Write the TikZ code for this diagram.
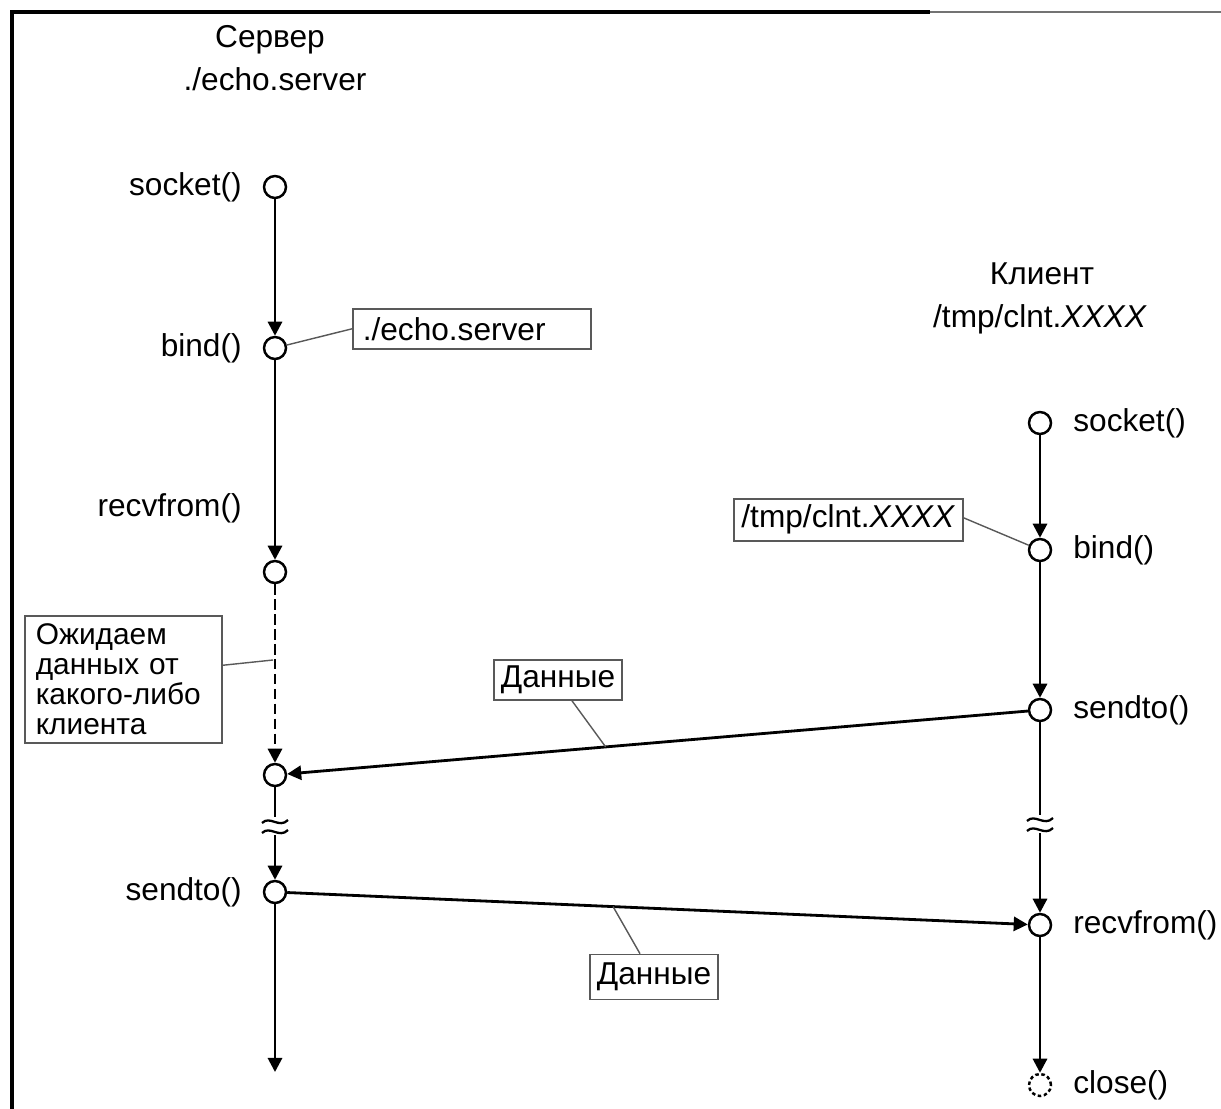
\documentclass[tikz,border=0pt]{standalone}
\usepackage{fontspec}
\setmainfont{Liberation Sans}
\usetikzlibrary{arrows.meta,calc}
\begin{document}
\begin{tikzpicture}[x=0.02cm,y=-0.02cm,
  every node/.style={font=\fontsize{18}{21}\selectfont},
  ev/.style={circle,draw,line width=1.4pt,fill=white,minimum size=0.44cm,inner sep=0pt},
  evd/.style={ev,dashed,dash pattern=on 2pt off 1.5pt},
  flow/.style={line width=1.6pt,-{Triangle[length=8pt,width=8pt]}},
  note/.style={draw=black!65,line width=0.9pt,inner ysep=0pt,minimum height=0.8cm},
  lead/.style={draw=black!65,line width=0.8pt},
  lbl/.style={inner sep=0pt},
  brk/.style={line width=1.3pt}
]
\useasboundingbox (0,0) rectangle (1221,1109);
% frame
\draw[line width=2.2pt] (12,1109) -- (12,12) -- (930,12);
\draw[line width=1.2pt,black!55] (930,12) -- (1221,12);

% titles
\node[lbl] (srvt) at (270,40) {Сервер};
\node[lbl] (srvp) at (275,79) {./echo.server};
\node[lbl] (clit) at (1042,274) {Клиент};
\node[lbl] (clip) at (1040,319) {/tmp/clnt.\textit{XXXX}};

% server events
\node[ev] (s1) at (275,187) {};
\node[ev] (s2) at (275,348) {};
\node[ev] (s3) at (275,572) {};
\node[ev] (s4) at (275,775) {};
\node[ev] (s5) at (275,892) {};
\coordinate (send) at (275,1072);

\node[lbl,anchor=east] (ls1) at (242,187) {socket()};
\node[lbl,anchor=east] (ls2) at (242,348) {bind()};
\node[lbl,anchor=east] (ls3) at (242,508) {recvfrom()};
\node[lbl,anchor=east] (ls5) at (242,892) {sendto()};

% client events
\node[ev] (c1) at (1040,423) {};
\node[ev] (c2) at (1040,550) {};
\node[ev] (c3) at (1040,710) {};
\node[ev] (c4) at (1040,925) {};
\node[evd] (c5) at (1040,1085) {};

\node[lbl,anchor=west] (lc1) at (1073,423) {socket()};
\node[lbl,anchor=west] (lc2) at (1073,550) {bind()};
\node[lbl,anchor=west] (lc3) at (1073,710) {sendto()};
\node[lbl,anchor=west] (lc4) at (1073,925) {recvfrom()};
\node[lbl,anchor=west] (lc5) at (1073,1085) {close()};

% server flow
\draw[flow] (s1) -- (s2);
\draw[flow] (s2) -- (s3);
\draw[flow,dash pattern=on 6pt off 2.5pt] (s3) -- (s4);
\draw[flow] (s4) -- (s5);
\draw[flow] (s5) -- (send);

% client flow
\draw[flow] (c1) -- (c2);
\draw[flow] (c2) -- (c3);
\draw[flow] (c3) -- (c4);
\draw[flow] (c4) -- (c5);

% break marks
\foreach \bx/\by in {275/826, 1040/824}{
  \fill[white] (\bx-13,\by-9) rectangle (\bx+13,\by+9);
  \draw[brk] (\bx-13,\by-3) .. controls (\bx-5,\by-11) and (\bx+4,\by+3) .. (\bx+13,\by-6);
  \draw[brk] (\bx-13,\by+7) .. controls (\bx-5,\by-1) and (\bx+4,\by+13) .. (\bx+13,\by+4);
}

% data messages
\draw[flow] (c3) -- (s4) coordinate[pos=0.57] (d1);
\draw[flow] (s5) -- (c4) coordinate[pos=0.44] (d2);

% notes
\node[note,anchor=north west,text width=4.36cm,align=left,inner xsep=0.2cm] (n1) at (352,308) {./echo.server};
\draw[lead] (s2) -- (n1.west);

\node[note,anchor=north west,minimum width=4.58cm,minimum height=0.84cm,inner xsep=0.1cm] (n2) at (733,498) {/tmp/clnt.\textit{XXXX}};
\draw[lead] (n2.east) ++(0,-2) coordinate (n2e) (n2e) -- (c2);

\node[note,anchor=north west,text width=3.5cm,align=left,inner xsep=0.22cm,minimum height=2.54cm,
      font=\fontsize{17}{17}\selectfont] (n3) at (24,615)
  {Ожидаем\\данных от\\какого-либо\\клиента};
\coordinate (w1) at (273,660);
\draw[lead] ($(n3.east)+(0,-14)$) -- (w1);

\node[note,minimum width=2.56cm] (n4) at (558,680) {Данные};
\draw[lead] ($(n4.south)+(14,0)$) -- (d1);

\node[note,minimum width=2.56cm,minimum height=0.9cm] (n5) at (654,977) {Данные};
\draw[lead] ($(n5.north)+(-14,0)$) -- (d2);
\end{tikzpicture}
\end{document}
